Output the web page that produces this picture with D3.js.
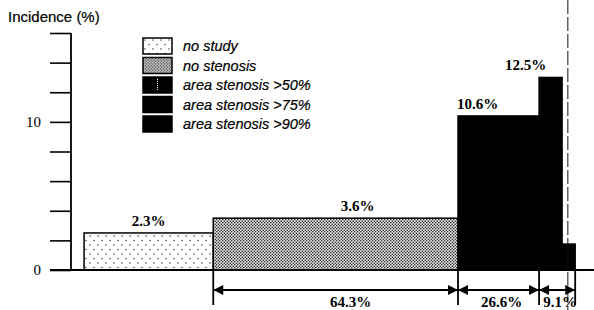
<!DOCTYPE html>
<html><head><meta charset="utf-8">
<script src="https://cdn.jsdelivr.net/npm/d3@7"></script>
<style>body{margin:0;background:#fff}svg{display:block}</style>
</head><body><svg id="c" width="594" height="310"></svg>
<script>
// ---- data ----
const categories = ["no study", "no stenosis", "area stenosis >50%", "area stenosis >75%", "area stenosis >90%"];
const barStart = [2.5, 27.2, 74.0, 89.5, 93.9];   // x position (share axis units)
const barEnd   = [27.2, 74.0, 89.5, 93.9, 96.4];
const barHeight = [2.5, 3.5, 10.4, 13.0, 1.75];   // incidence (%) as drawn
const barLabels = ["2.3%", "3.6%", "10.6%", "12.5%", ""];
const spanFrom = [27.2, 74.0, 89.5];
const spanTo   = [74.0, 89.5, 96.4];
const spanLabels = ["64.3%", "26.6%", "9.1%"];
const yTicks = [0, 2, 4, 6, 8, 10, 12, 14, 16];
const yTickLabels = {0: "0", 10: "10"};

// ---- layout ----
const svg = d3.select("#c");
const x = d3.scaleLinear().domain([0, 100]).range([71, 594]);
const y = d3.scaleLinear().domain([0, 16]).range([270, 33]);
const fills = ["url(#pDots)", "url(#pDense)", "#000", "#000", "#000"];

const defs = svg.append("defs");
const p1 = defs.append("pattern").attr("id", "pDots").attr("patternUnits", "userSpaceOnUse")
  .attr("width", 8).attr("height", 9);
p1.append("rect").attr("width", 8).attr("height", 9).attr("fill", "#fff");
p1.append("circle").attr("cx", 2).attr("cy", 2).attr("r", 0.7).attr("fill", "#222");
p1.append("circle").attr("cx", 6).attr("cy", 6.5).attr("r", 0.7).attr("fill", "#222");
const p2 = defs.append("pattern").attr("id", "pDense").attr("patternUnits", "userSpaceOnUse")
  .attr("width", 3).attr("height", 3);
p2.append("rect").attr("width", 3).attr("height", 3).attr("fill", "#e6e6e6");
p2.append("circle").attr("cx", 0.75).attr("cy", 0.75).attr("r", 0.75).attr("fill", "#111");
p2.append("circle").attr("cx", 2.25).attr("cy", 2.25).attr("r", 0.75).attr("fill", "#111");

// title
svg.append("text").attr("x", 8).attr("y", 22).attr("font-family", "Liberation Sans, Arial, sans-serif")
  .attr("font-size", 15).attr("fill", "#000").attr("stroke", "#000").attr("stroke-width", 0.2)
  .text("Incidence (%)");

// bars
svg.append("g").selectAll("rect").data(categories).join("rect")
  .attr("x", (d, i) => x(barStart[i]))
  .attr("y", (d, i) => y(barHeight[i]))
  .attr("width", (d, i) => x(barEnd[i]) - x(barStart[i]))
  .attr("height", (d, i) => y(0) - y(barHeight[i]))
  .attr("fill", (d, i) => fills[i])
  .attr("stroke", "#000").attr("stroke-width", 1.5);

// y axis
const yAxis = d3.axisLeft(y).tickValues(yTicks).tickSize(21).tickPadding(9)
  .tickFormat(d => yTickLabels[d] || "");
const ga = svg.append("g").attr("transform", `translate(${x(0)},0)`).call(yAxis);
ga.select(".domain").attr("stroke-width", 1.8).attr("d", `M0,${y(16)}V${y(0)}`);
ga.selectAll(".tick line").attr("stroke-width", 1.6);
ga.selectAll(".tick text").attr("font-family", "Liberation Serif, Times New Roman, serif")
  .attr("font-size", 15).attr("fill", "#000");

// baseline
svg.append("line").attr("x1", 50).attr("x2", 594).attr("y1", y(0)).attr("y2", y(0))
  .attr("stroke", "#000").attr("stroke-width", 1.8);

// bar value labels
const labelNudge = [0, 22, -21, -25, 0];
svg.append("g").selectAll("text").data(barLabels).join("text")
  .attr("x", (d, i) => (x(barStart[i]) + x(barEnd[i])) / 2 + labelNudge[i])
  .attr("y", (d, i) => y(barHeight[i]) - 7)
  .attr("text-anchor", "middle")
  .attr("font-family", "Liberation Serif, Times New Roman, serif").attr("font-weight", "bold")
  .attr("font-size", 15).attr("fill", "#000").text(d => d);

// scan fold dashed line
svg.append("line").attr("x1", x(95.0)).attr("x2", x(95.0)).attr("y1", 0).attr("y2", 310)
  .attr("stroke", "#111").attr("stroke-width", 1).attr("stroke-dasharray", "14,3");

// span arrows
const ay = 290;
const edges = Array.from(new Set(spanFrom.concat(spanTo)));
svg.append("g").selectAll("line").data(edges).join("line")
  .attr("x1", d => x(d)).attr("x2", d => x(d)).attr("y1", y(0)).attr("y2", 305)
  .attr("stroke", "#000").attr("stroke-width", 1.8);
const ag = svg.append("g");
spanLabels.forEach((lab, i) => {
  const a = x(spanFrom[i]), b = x(spanTo[i]);
  ag.append("line").attr("x1", a).attr("x2", b).attr("y1", ay).attr("y2", ay)
    .attr("stroke", "#000").attr("stroke-width", 1.8);
  ag.append("path").attr("d", `M${a},${ay}l10,-5v10z`).attr("fill", "#000");
  ag.append("path").attr("d", `M${b},${ay}l-10,-5v10z`).attr("fill", "#000");
  ag.append("text").attr("x", (a + b) / 2 + (i === 0 ? 15 : 3)).attr("y", 307)
    .attr("text-anchor", "middle")
    .attr("font-family", "Liberation Serif, Times New Roman, serif").attr("font-weight", "bold")
    .attr("font-size", 15).attr("fill", "#000").text(lab);
});

// legend
const lg = svg.append("g").attr("transform", "translate(143,38)");
const rows = lg.selectAll("g").data(categories).join("g")
  .attr("transform", (d, i) => `translate(0,${i * 19.5})`);
rows.append("rect").attr("width", 29).attr("height", 16)
  .attr("fill", (d, i) => fills[i]).attr("stroke", "#000").attr("stroke-width", 1.5);
rows.filter((d, i) => i === 2).append("line").attr("x1", 14.5).attr("x2", 14.5)
  .attr("y1", 2).attr("y2", 14).attr("stroke", "#fff").attr("stroke-width", 1).attr("stroke-dasharray", "1,1");
rows.append("text").attr("x", 40).attr("y", 13)
  .attr("font-family", "Liberation Sans, Arial, sans-serif").attr("font-style", "italic")
  .attr("font-size", 14.5).attr("fill", "#000").attr("stroke", "#000").attr("stroke-width", 0.2)
  .text(d => d);
</script></body></html>
